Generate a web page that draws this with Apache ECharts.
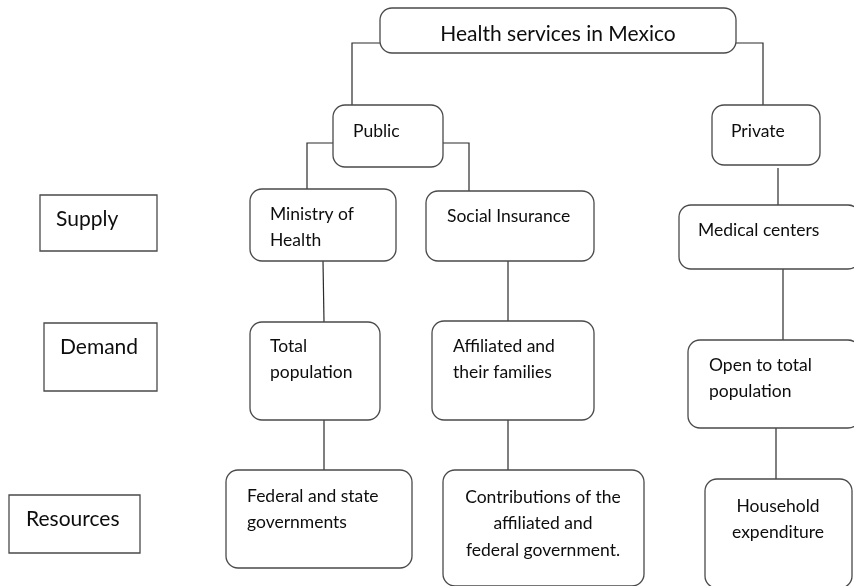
<!DOCTYPE html>
<html>
<head>
<meta charset="utf-8">
<script src="https://cdn.jsdelivr.net/npm/echarts@6/dist/echarts.min.js"></script>
<style>html,body{margin:0;padding:0;background:#fff;}#c{width:854px;height:586px;}</style>
</head>
<body>
<div id="c"></div>
<script>
// Node texts
const boxLabels = [
  'Health services in Mexico',
  'Public',
  'Private',
  'Supply',
  'Demand',
  'Resources',
  'Ministry of\nHealth',
  'Social Insurance',
  'Medical centers',
  'Total\npopulation',
  'Affiliated and\ntheir families',
  'Open to total\npopulation',
  'Federal and state\ngovernments',
  'Contributions of the\naffiliated and\nfederal government.',
  'Household\nexpenditure'
];
// Node extents in diagram units (x1, y1, x2, y2)
const boxX1 = [380, 333, 712, 40, 44, 9, 250, 426, 679, 250, 432, 688, 226, 443, 705];
const boxY1 = [8, 105, 105, 195, 323, 495, 189, 191, 205, 322, 321, 340, 470, 470, 479];
const boxX2 = [736, 443, 820, 157, 157, 140, 396, 594, 860, 380, 594, 860, 412, 644, 852];
const boxY2 = [53, 167, 165, 251, 391, 553, 261, 261, 269, 420, 420, 428, 568, 586, 588];
// Text anchor (x, middle of first line) in diagram units
const textX = [558, 353, 731, 56, 60, 26, 270, 447, 698, 270, 453, 709, 247, 543, 778];
const textY = [34, 131, 131, 219, 347, 519, 214, 216, 230, 346, 346, 365, 496, 497, 506];
const textAlign = ['center','left','left','left','left','left','left','left','left','left','left','left','left','center','center'];
const textSize = [21, 17.5, 17.5, 21, 21, 21, 17.5, 17.5, 17.5, 17.5, 17.5, 17.5, 17.5, 17.5, 17.5];
const rounded = [1,1,1,0,0,0,1,1,1,1,1,1,1,1,1];

// Connectors (polylines) in diagram units
const connectors = [
  [[380,43],[352,43],[352,105]],
  [[736,43],[763,43],[763,105]],
  [[333,143],[307,143],[307,189]],
  [[443,143],[469,143],[469,191]],
  [[323,261],[324,322]],
  [[324,420],[324,470]],
  [[508,261],[508,321]],
  [[508,420],[508,470]],
  [[778,168],[778,205]],
  [[783,269],[783,340]],
  [[776,428],[776,479]]
];

const boxData = boxLabels.map((t, i) => [boxX1[i], boxY1[i], boxX2[i], boxY2[i], textX[i], textY[i], i]);

const chart = echarts.init(document.getElementById('c'), null, {renderer: 'canvas'});
const FONT = 'Lato, "Open Sans", sans-serif';
const LH = 26.5;

chart.setOption({
  animation: false,
  backgroundColor: '#ffffff',
  grid: {left: 0, right: 0, top: 0, bottom: 0},
  xAxis: {type: 'value', min: 0, max: 854, show: false},
  yAxis: {type: 'value', min: 0, max: 586, inverse: true, show: false},
  series: [
    {
      type: 'lines',
      coordinateSystem: 'cartesian2d',
      polyline: true,
      silent: true,
      lineStyle: {color: '#2b2b2b', width: 1.2, opacity: 1},
      data: connectors.map(c => ({coords: c}))
    },
    {
      type: 'custom',
      clip: false,
      silent: true,
      data: boxData,
      encode: {x: [0, 2, 4], y: [1, 3, 5]},
      renderItem: function (params, api) {
        const i = api.value(6);
        const p1 = api.coord([api.value(0), api.value(1)]);
        const p2 = api.coord([api.value(2), api.value(3)]);
        const tp = api.coord([api.value(4), api.value(5)]);
        return {
          type: 'group',
          children: [
            {
              type: 'rect',
              shape: {x: p1[0], y: p1[1], width: p2[0] - p1[0], height: p2[1] - p1[1], r: rounded[i] ? 12 : 0},
              style: {fill: '#ffffff', stroke: '#4a4a4a', lineWidth: 1.3}
            },
            {
              type: 'text',
              x: tp[0],
              y: tp[1] - LH / 2,
              style: {
                text: boxLabels[i],
                fill: '#0d0d0d',
                font: textSize[i] + 'px ' + FONT,
                align: textAlign[i],
                verticalAlign: 'top',
                lineHeight: LH
              }
            }
          ]
        };
      }
    }
  ]
});
</script>
</body>
</html>
